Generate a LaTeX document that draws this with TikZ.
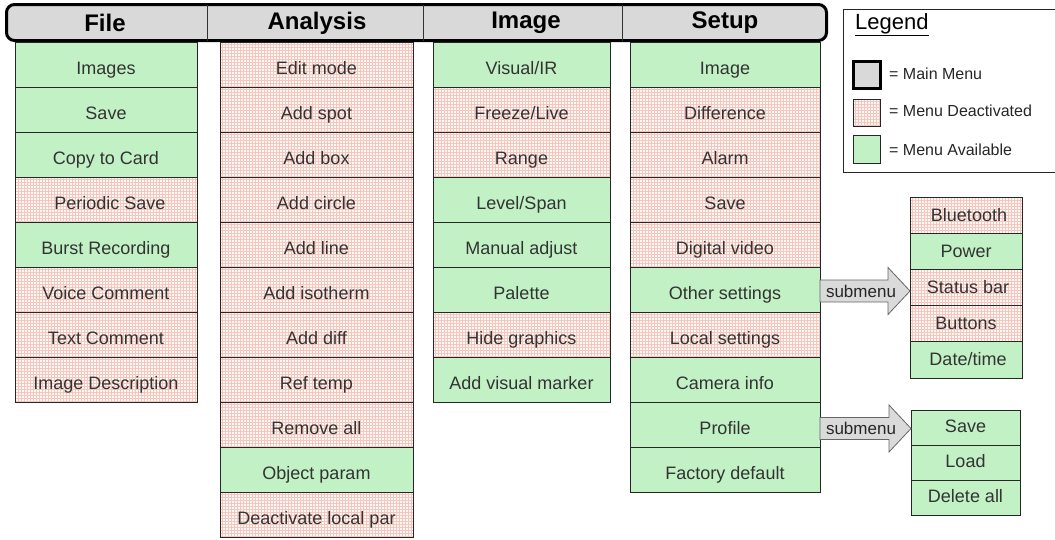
\documentclass[tikz,border=0pt]{standalone}
\usepackage{fontspec}
\setmainfont{Liberation Sans}
\usetikzlibrary{calc,patterns}
\definecolor{hdrgray}{RGB}{217,217,217}
\definecolor{availgreen}{RGB}{193,241,196}
\definecolor{deactbg}{RGB}{255,248,246}
\definecolor{deactline}{RGB}{244,198,188}
\definecolor{arrowgray}{RGB}{218,218,218}
\pgfdeclarepatternformonly{mygrid}{\pgfqpoint{-1pt}{-1pt}}{\pgfqpoint{4pt}{4pt}}{\pgfqpoint{3pt}{3pt}}{%
  \pgfsetlinewidth{0.7pt}%
  \pgfpathmoveto{\pgfqpoint{0pt}{0pt}}\pgfpathlineto{\pgfqpoint{3.1pt}{0pt}}%
  \pgfpathmoveto{\pgfqpoint{0pt}{0pt}}\pgfpathlineto{\pgfqpoint{0pt}{3.1pt}}%
  \pgfusepath{stroke}}
\newcommand\subarrow[3]{%
  \coordinate (#1a) at ($(#1.east)+(0,#3)$);
  \coordinate (#1t) at (#1a -| #2.west);
  \draw[arrowbody] ($(#1a)+(0,-11)$) -- ($(#1t)+(-22,-11)$) -- ($(#1t)+(-22,-23.5)$) -- (#1t)
     -- ($(#1t)+(-22,23.5)$) -- ($(#1t)+(-22,11)$) -- ($(#1a)+(0,11)$) -- cycle;
  \node[subtext] (#1lbl) at ($(#1a)+(41,0)$) {submenu};}
\begin{document}
\begin{tikzpicture}[x=1pt,y=-1pt,
  cell/.style={draw=black!85, line width=0.8pt, outer sep=0pt, inner sep=0pt, anchor=north,
    minimum height=45pt, text height=20pt, text depth=1pt, text=black!80, font=\fontsize{18}{18}\selectfont},
  avail/.style={cell, fill=availgreen},
  deact/.style={cell, preaction={fill=deactbg}, pattern=mygrid, pattern color=deactline},
  fcol/.style={minimum width=182pt},
  acol/.style={minimum width=193pt},
  icol/.style={minimum width=177pt},
  scol/.style={minimum width=190pt},
  subA/.style={minimum width=112pt, minimum height=36.2pt, text height=13pt, text depth=1pt},
  subB/.style={minimum width=109pt, minimum height=35pt, text height=13pt, text depth=3pt},
  hdrbar/.style={draw=black, line width=3pt, rounded corners=8pt, fill=hdrgray,
    minimum width=820pt, minimum height=36pt, inner sep=0pt},
  hdrtext/.style={font=\bfseries\fontsize{24}{24}\selectfont, inner sep=0pt},
  arrowbody/.style={draw=black!60, line width=0.8pt, fill=arrowgray},
  subtext/.style={font=\fontsize{17}{17}\selectfont, inner sep=0pt, text=black!85},
  legtext/.style={font=\fontsize{16}{16}\selectfont, inner sep=0pt, anchor=west, text=black!85},
  legsq/.style={line width=0.8pt, draw=black!85}
]
\useasboundingbox (0,0) rectangle (1055,539);

% header bar
\node[hdrbar] (bar) at (416.5,22.5) {};
\draw[line width=0.8pt, black!80] (207,4.5) -- (207,40.5);
\draw[line width=0.8pt, black!80] (423,4.5) -- (423,40.5);
\draw[line width=0.8pt, black!80] (622,4.5) -- (622,40.5);
\node[hdrtext] (hfile) at (105,23) {File};
\node[hdrtext] (hana) at (317,23) {Analysis};
\node[hdrtext] (himg) at (526,23) {Image};
\node[hdrtext] (hset) at (725,23) {Setup};

% File column
\node[avail,fcol] (f1) at (106,42) {Images};
\node[avail,fcol] (f2) at (f1.south) {Save};
\node[avail,fcol] (f3) at (f2.south) {Copy to Card};
\node[deact,fcol] (f4) at (f3.south) {\hspace{8pt}Periodic Save};
\node[avail,fcol] (f5) at (f4.south) {Burst Recording};
\node[deact,fcol] (f6) at (f5.south) {Voice Comment};
\node[deact,fcol] (f7) at (f6.south) {Text Comment};
\node[deact,fcol] (f8) at (f7.south) {Image Description};

% Analysis column
\node[deact,acol] (a1) at (316.5,42) {Edit mode};
\node[deact,acol] (a2) at (a1.south) {Add spot};
\node[deact,acol] (a3) at (a2.south) {Add box};
\node[deact,acol] (a4) at (a3.south) {Add circle};
\node[deact,acol] (a5) at (a4.south) {Add line};
\node[deact,acol] (a6) at (a5.south) {Add isotherm};
\node[deact,acol] (a7) at (a6.south) {Add diff};
\node[deact,acol] (a8) at (a7.south) {Ref temp};
\node[deact,acol] (a9) at (a8.south) {Remove all};
\node[avail,acol] (a10) at (a9.south) {Object param};
\node[deact,acol] (a11) at (a10.south) {Deactivate local par};

% Image column
\node[avail,icol] (i1) at (521.5,42) {Visual/IR};
\node[deact,icol] (i2) at (i1.south) {Freeze/Live};
\node[deact,icol] (i3) at (i2.south) {Range};
\node[avail,icol] (i4) at (i3.south) {Level/Span};
\node[avail,icol] (i5) at (i4.south) {Manual adjust};
\node[avail,icol] (i6) at (i5.south) {Palette};
\node[deact,icol] (i7) at (i6.south) {Hide graphics};
\node[avail,icol] (i8) at (i7.south) {Add visual marker};

% Setup column
\node[avail,scol] (s1) at (725,42) {Image};
\node[deact,scol] (s2) at (s1.south) {Difference};
\node[deact,scol] (s3) at (s2.south) {Alarm};
\node[deact,scol] (s4) at (s3.south) {Save};
\node[deact,scol] (s5) at (s4.south) {Digital video};
\node[avail,scol] (s6) at (s5.south) {Other settings};
\node[deact,scol] (s7) at (s6.south) {Local settings};
\node[avail,scol] (s8) at (s7.south) {Camera info};
\node[avail,scol] (s9) at (s8.south) {Profile};
\node[avail,scol] (s10) at (s9.south) {Factory default};

% Submenu 1
\node[deact,subA] (b1) at (966,197) {\hspace{6pt}Bluetooth};
\node[avail,subA] (b2) at (b1.south) {Power};
\node[deact,subA] (b3) at (b2.south) {\hspace{4pt}Status bar};
\node[deact,subA] (b4) at (b3.south) {Buttons};
\node[avail,subA] (b5) at (b4.south) {\hspace{4pt}Date/time};

% Submenu 2
\node[avail,subB] (c1) at (965.5,410) {Save};
\node[avail,subB] (c2) at (c1.south) {Load};
\node[avail,subB] (c3) at (c2.south) {Delete all};

% arrows
\subarrow{s6}{b1}{1.5}
\subarrow{s9}{c1}{4}

% Legend
\draw[line width=0.8pt, black!85] (843,9) rectangle (1060,172);
\node[font=\fontsize{22}{22}\selectfont, inner sep=0pt, anchor=base west] (legtitle) at (855,29) {\underline{Legend}};
\node[draw=black, line width=3pt, fill=hdrgray, minimum width=27pt, minimum height=27pt, inner sep=0pt] (lmain) at (867,75) {};
\node[legsq, pattern=mygrid, pattern color=deactline, preaction={fill=deactbg}, minimum width=27pt, minimum height=27pt, inner sep=0pt] (ldeact) at (867,113) {};
\node[legsq, fill=availgreen, minimum width=27pt, minimum height=28pt, inner sep=0pt] (lavail) at (867,149) {};
\node[legtext] (tmain) at (889,74) {= Main Menu};
\node[legtext] (tdeact) at (889,111) {= Menu Deactivated};
\node[legtext] (tavail) at (889,150) {= Menu Available};
\end{tikzpicture}
\end{document}
